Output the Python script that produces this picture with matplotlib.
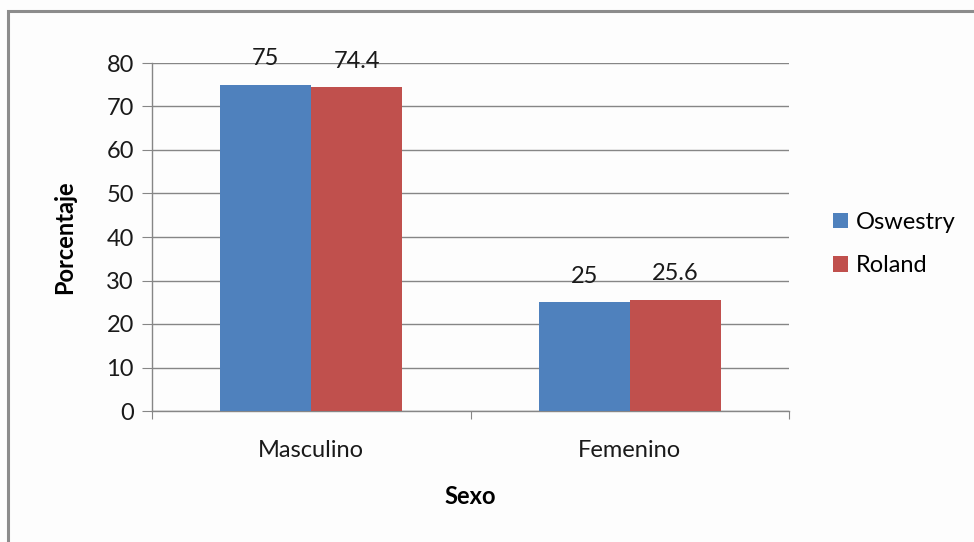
import numpy as np
import matplotlib.pyplot as plt
from matplotlib.patches import Rectangle

plt.rcParams['font.family'] = ['Lato', 'DejaVu Sans']

categories = ['Masculino', 'Femenino']
oswestry = [75, 25]
roland = [74.4, 25.6]
series_names = ['Oswestry', 'Roland']
yticks = [0, 10, 20, 30, 40, 50, 60, 70, 80]

blue = '#4F81BD'
red = '#C0504D'
axis_gray = '#868686'
fs = 17

fig = plt.figure(figsize=(9.74, 5.42), dpi=100)
fig.patch.set_facecolor('#FDFDFD')

# outer chart frame (only left and top edges fall inside the image)
fig.add_artist(Rectangle((8 / 974, -0.1), 1.2, (1 - 11 / 542) + 0.1,
                         transform=fig.transFigure, fill=False,
                         edgecolor='#8C8C8C', linewidth=2.2))

ax = fig.add_axes([152 / 974, 1 - 411 / 542, (789 - 152) / 974, (411 - 63) / 542])
ax.set_facecolor('none')

x = np.arange(len(categories))
w = 0.285
b1 = ax.bar(x - w / 2, oswestry, w, color=blue, label=series_names[0], zorder=3)
b2 = ax.bar(x + w / 2, roland, w, color=red, label=series_names[1], zorder=3)

for bars, vals in ((b1, oswestry), (b2, roland)):
    for rect, v in zip(bars, vals):
        ax.annotate(f'{v:g}', (rect.get_x() + rect.get_width() / 2, v),
                    xytext=(0, 11), textcoords='offset points',
                    ha='center', va='bottom', fontsize=fs, color='#1A1A1A')

ax.set_xlim(-0.5, 1.5)
ax.set_ylim(0, 80)
ax.set_yticks(yticks)
ax.yaxis.grid(True, color=axis_gray, linewidth=1.0, zorder=0)
ax.set_axisbelow(True)

for side in ('top', 'right'):
    ax.spines[side].set_visible(False)
for side in ('left', 'bottom'):
    ax.spines[side].set_color(axis_gray)
    ax.spines[side].set_linewidth(1.0)

# category ticks sit on the group boundaries
ax.set_xticks([-0.5, 0.5, 1.5])
ax.set_xticklabels([])
ax.set_xticks(x, minor=True)
ax.set_xticklabels(categories, minor=True)
ax.tick_params(axis='x', which='major', length=6, color=axis_gray, direction='out')
ax.tick_params(axis='x', which='minor', length=0, pad=21, labelsize=fs, labelcolor='#1A1A1A')
ax.tick_params(axis='y', length=7, color=axis_gray, labelsize=fs, labelcolor='#1A1A1A', pad=6)

ax.set_ylabel('Porcentaje', fontsize=fs, fontweight='bold', labelpad=22)
ax.set_xlabel('Sexo', fontsize=fs, fontweight='bold', labelpad=17)

leg = ax.legend(loc='center left', bbox_to_anchor=(1.035, 0.48), frameon=False,
                fontsize=fs, handlelength=0.65, handleheight=0.65,
                handletextpad=0.35, labelspacing=0.95)

fig.savefig('out.png', dpi=100, facecolor=fig.get_facecolor())
